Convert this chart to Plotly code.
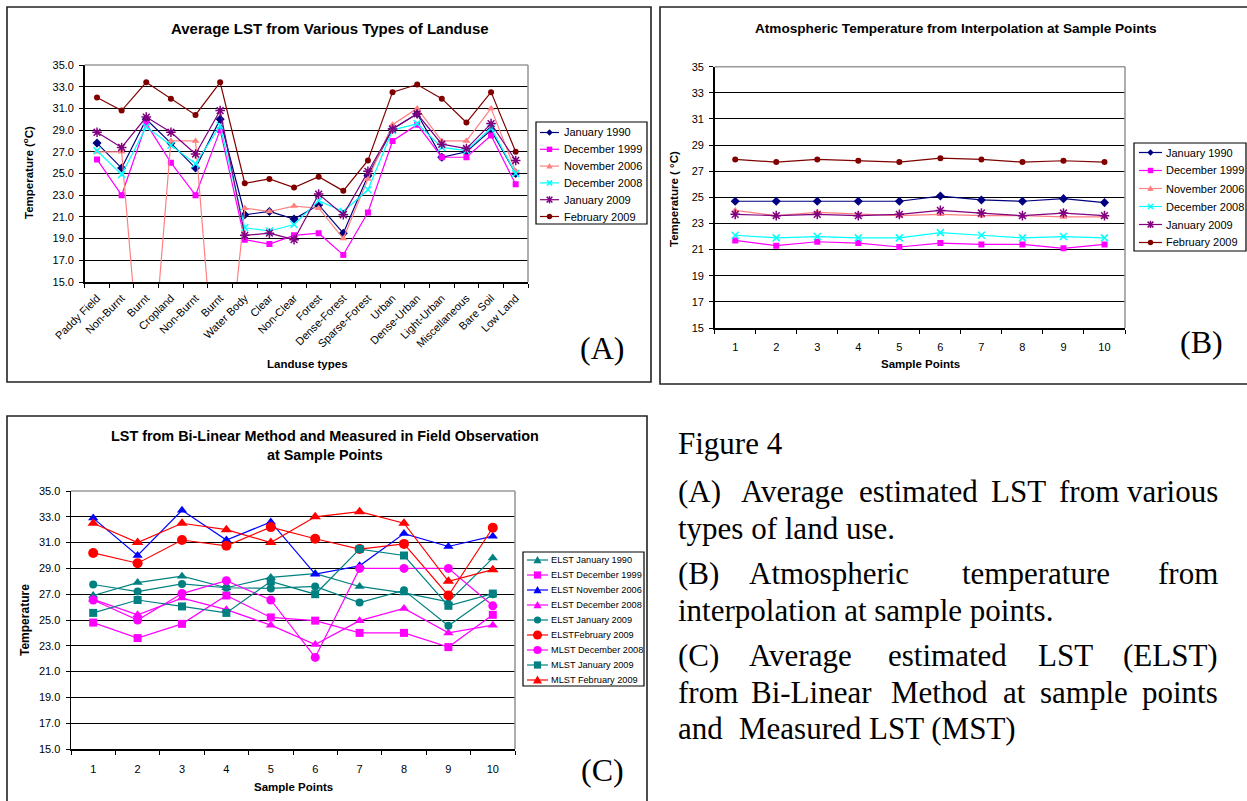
import plotly.graph_objects as go

W, H = 1247, 801

# ---------------- Panel A data ----------------
landuse = ["Paddy Field", "Non-Burnt", "Burnt", "Cropland", "Non-Burnt", "Burnt",
           "Water Body", "Clear", "Non-Clear", "Forest", "Dense-Forest", "Sparse-Forest",
           "Urban", "Dense-Urban", "Light-Urban", "Miscellaneous", "Bare Soil", "Low Land"]
a_jan1990 = [27.8, 25.5, 30.0, 27.8, 25.5, 30.0, 21.2, 21.5, 20.8, 22.1, 19.5, 24.8, 29.1, 30.5, 26.5, 27.0, 29.0, 25.0]
a_dec1999 = [26.3, 23.0, 29.6, 26.0, 23.0, 29.0, 18.9, 18.5, 19.3, 19.5, 17.5, 21.4, 28.0, 29.5, 26.5, 26.5, 28.5, 24.0]
a_nov2006 = [27.0, 27.0, 0.0, 28.0, 28.0, 0.0, 21.8, 21.5, 22.0, 21.8, 19.0, 24.5, 29.5, 31.0, 28.0, 28.0, 31.0, 25.2]
a_dec2008 = [27.1, 24.9, 29.3, 27.6, 25.9, 29.4, 20.0, 19.7, 20.3, 22.5, 21.5, 23.5, 29.0, 29.6, 27.4, 27.1, 29.2, 25.0]
a_jan2009 = [28.8, 27.4, 30.2, 28.8, 26.8, 30.8, 19.3, 19.5, 18.9, 23.1, 21.2, 25.2, 29.1, 30.5, 27.7, 27.3, 29.6, 26.2]
a_feb2009 = [32.0, 30.8, 33.4, 31.9, 30.4, 33.4, 24.1, 24.5, 23.7, 24.7, 23.4, 26.2, 32.5, 33.2, 31.9, 29.7, 32.5, 27.0]

# ---------------- Panel B data ----------------
sample_points = [1, 2, 3, 4, 5, 6, 7, 8, 9, 10]
b_jan1990 = [24.7, 24.7, 24.7, 24.7, 24.7, 25.1, 24.8, 24.7, 24.9, 24.6]
b_dec1999 = [21.7, 21.3, 21.6, 21.5, 21.2, 21.5, 21.4, 21.4, 21.1, 21.4]
b_nov2006 = [24.0, 23.6, 23.85, 23.7, 23.6, 23.7, 23.6, 23.6, 23.5, 23.5]
b_dec2008 = [22.1, 21.9, 22.0, 21.9, 21.9, 22.3, 22.1, 21.9, 22.0, 21.9]
b_jan2009 = [23.7, 23.6, 23.7, 23.6, 23.7, 24.0, 23.8, 23.6, 23.8, 23.6]
b_feb2009 = [27.9, 27.7, 27.9, 27.8, 27.7, 28.0, 27.9, 27.7, 27.8, 27.7]

# ---------------- Panel C data ----------------
c_elst_jan1990 = [26.9, 27.9, 28.4, 27.5, 28.3, 28.6, 27.6, 27.1, 26.4, 29.8]
c_elst_dec1999 = [24.8, 23.6, 24.7, 26.9, 25.2, 24.95, 24.0, 24.0, 22.9, 25.4]
c_elst_nov2006 = [32.9, 30.0, 33.5, 31.2, 32.6, 28.55, 29.2, 31.7, 30.7, 31.5]
c_elst_dec2008 = [26.6, 25.4, 26.7, 25.8, 24.6, 23.1, 24.95, 25.9, 24.0, 24.6]
c_elst_jan2009 = [27.75, 27.2, 27.8, 27.5, 27.45, 27.6, 26.35, 27.3, 24.55, 27.0]
c_elst_feb2009 = [30.2, 29.4, 31.2, 30.75, 32.2, 31.3, 30.5, 30.9, 26.9, 32.15]
c_mlst_dec2008 = [26.55, 25.0, 27.05, 28.05, 26.55, 22.1, 29.0, 29.0, 29.0, 26.1]
c_mlst_jan2009 = [25.55, 26.55, 26.05, 25.55, 28.0, 27.0, 30.5, 30.0, 26.1, 27.05]
c_mlst_feb2009 = [32.5, 31.0, 32.5, 32.0, 31.0, 33.0, 33.4, 32.5, 28.0, 28.9]

SANS = "Liberation Sans"
SERIF = "Liberation Serif"


def X(px):
    return px / W


def Y(py):
    return 1 - py / H


fig = go.Figure()

# ---------- series definitions (name, values, color, symbol, size) ----------
a_series = [
    ("January 1990", a_jan1990, "#000080", "diamond", 7),
    ("December 1999", a_dec1999, "#FF00FF", "square", 6),
    ("November 2006", a_nov2006, "#FF8080", "triangle-up", 7),
    ("December 2008", a_dec2008, "#00FFFF", "x-thin-open", 7),
    ("January 2009", a_jan2009, "#800080", "asterisk-open", 8),
    ("February 2009", a_feb2009, "#800000", "circle", 6),
]
b_series = [
    ("January 1990", b_jan1990, "#000080", "diamond", 7),
    ("December 1999", b_dec1999, "#FF00FF", "square", 6),
    ("November 2006", b_nov2006, "#FF8080", "triangle-up", 7),
    ("December 2008", b_dec2008, "#00FFFF", "x-thin-open", 7),
    ("January 2009", b_jan2009, "#800080", "asterisk-open", 8),
    ("February 2009", b_feb2009, "#800000", "circle", 6),
]
c_series = [
    ("ELST January 1990", c_elst_jan1990, "#008080", "triangle-up", 9),
    ("ELST December 1999", c_elst_dec1999, "#FF00FF", "square", 8),
    ("ELST November 2006", c_elst_nov2006, "#0000FF", "triangle-up", 9),
    ("ELST December 2008", c_elst_dec2008, "#FF00FF", "triangle-up", 9),
    ("ELST January 2009", c_elst_jan2009, "#008080", "circle", 8),
    ("ELSTFebruary 2009", c_elst_feb2009, "#FF0000", "circle", 10),
    ("MLST December 2008", c_mlst_dec2008, "#FF00FF", "circle", 9),
    ("MLST January 2009", c_mlst_jan2009, "#008080", "square", 8),
    ("MLST February 2009", c_mlst_feb2009, "#FF0000", "triangle-up", 10),
]


def add_series(series, xs, xa, ya, lw):
    for name, vals, color, sym, size in series:
        marker = dict(symbol=sym, size=size, color=color)
        if sym.endswith("-open"):
            marker["line"] = dict(color=color, width=1.5)
        else:
            marker["line"] = dict(width=0)
        fig.add_trace(go.Scatter(
            x=xs, y=vals, name=name, mode="lines+markers",
            line=dict(color=color, width=lw), marker=marker,
            xaxis=xa, yaxis=ya, showlegend=False, cliponaxis=True))


add_series(a_series, list(range(len(landuse))), "x", "y", 1.2)
add_series(b_series, sample_points, "x2", "y2", 1.2)
add_series(c_series, sample_points, "x3", "y3", 1.2)

# ---------- axes ----------
tickfont = dict(family=SANS, size=11, color="black")


def yaxis_cfg(top, bottom, fmt):
    return dict(domain=[Y(bottom), Y(top)], range=[15, 35], tick0=15, dtick=2,
                tickformat=fmt, showgrid=True, gridcolor="black", gridwidth=1,
                ticks="outside", ticklen=4, tickcolor="black", tickwidth=1,
                showline=True, linecolor="black", linewidth=1.5, zeroline=False,
                tickfont=tickfont, ticklabelstandoff=3, fixedrange=True, automargin=False)


def xaxis_cfg(left, right, rng, tickvals, ticktext, angle):
    return dict(domain=[X(left), X(right)], range=rng, tickmode="array",
                tickvals=tickvals, ticktext=ticktext, tickangle=angle,
                showgrid=False, zeroline=False, showline=True, linecolor="black",
                linewidth=1.5, ticks="outside", ticklen=4, tickcolor="rgba(0,0,0,0)",
                minor=dict(tickmode="array",
                           tickvals=[v + 0.5 for v in [tickvals[0] - 1] + list(tickvals)],
                           ticks="outside", ticklen=4, tickcolor="black", tickwidth=1,
                           showgrid=False),
                tickfont=tickfont, fixedrange=True, automargin=False)


# plot area pixel boxes
A_L, A_R, A_T, A_B = 84.7, 528, 65, 282
B_L, B_R, B_T, B_B = 714.7, 1125, 66.7, 328
C_L, C_R, C_T, C_B = 71, 515, 491, 749

fig.update_layout(
    xaxis=xaxis_cfg(A_L, A_R, [-0.5, len(landuse) - 0.5], list(range(len(landuse))), landuse, -45) | dict(anchor="y"),
    yaxis=yaxis_cfg(A_T, A_B, ".1f") | dict(anchor="x"),
    xaxis2=xaxis_cfg(B_L, B_R, [0.5, 10.5], sample_points, [str(v) for v in sample_points], 0) | dict(anchor="y2", ticklabelstandoff=4),
    yaxis2=yaxis_cfg(B_T, B_B, "d") | dict(anchor="x2"),
    xaxis3=xaxis_cfg(C_L, C_R, [0.5, 10.5], sample_points, [str(v) for v in sample_points], 0) | dict(anchor="y3", ticklabelstandoff=5),
    yaxis3=yaxis_cfg(C_T, C_B, ".1f") | dict(anchor="x3"),
)

shapes = []
annotations = []

# panel borders
for (l, t, r, b) in [(7, 7, 651, 382), (660, 7, 1252, 384), (7, 416, 647, 806)]:
    shapes.append(dict(type="rect", xref="paper", yref="paper", x0=X(l), x1=X(r), y0=Y(b), y1=Y(t),
                       line=dict(color="#222222", width=1.6), layer="below"))

# gray plot-area border (top and right)
for (l, t, r, b) in [(A_L, A_T, A_R, A_B), (B_L, B_T, B_R, B_B), (C_L, C_T, C_R, C_B)]:
    shapes.append(dict(type="line", xref="paper", yref="paper", x0=X(l), x1=X(r), y0=Y(t), y1=Y(t),
                       line=dict(color="#9a9a9a", width=1.6), layer="above"))
    shapes.append(dict(type="line", xref="paper", yref="paper", x0=X(r), x1=X(r), y0=Y(b), y1=Y(t),
                       line=dict(color="#9a9a9a", width=1.6), layer="above"))


def P(x, y):
    return f"{X(x):.6f},{Y(y):.6f}"


def marker_shapes(sym, cx, cy, r, color):
    out = []
    if sym == "diamond":
        out.append(dict(type="path", path=f"M {P(cx, cy - r)} L {P(cx + r, cy)} L {P(cx, cy + r)} L {P(cx - r, cy)} Z",
                        fillcolor=color, line=dict(width=0)))
    elif sym == "square":
        out.append(dict(type="rect", x0=X(cx - r), x1=X(cx + r), y0=Y(cy + r), y1=Y(cy - r),
                        fillcolor=color, line=dict(width=0)))
    elif sym == "triangle-up":
        out.append(dict(type="path", path=f"M {P(cx, cy - r)} L {P(cx + r, cy + r * 0.8)} L {P(cx - r, cy + r * 0.8)} Z",
                        fillcolor=color, line=dict(width=0)))
    elif sym == "circle":
        out.append(dict(type="circle", x0=X(cx - r), x1=X(cx + r), y0=Y(cy + r), y1=Y(cy - r),
                        fillcolor=color, line=dict(width=0)))
    elif sym in ("x-thin-open", "asterisk-open"):
        d = r * 0.8
        out.append(dict(type="path", path=f"M {P(cx - d, cy - d)} L {P(cx + d, cy + d)} M {P(cx - d, cy + d)} L {P(cx + d, cy - d)}",
                        line=dict(color=color, width=1.5)))
        if sym == "asterisk-open":
            out.append(dict(type="path", path=f"M {P(cx, cy - r)} L {P(cx, cy + r)}",
                            line=dict(color=color, width=1.5)))
    for s in out:
        s.update(xref="paper", yref="paper", layer="above")
    return out


def legend_box(series, box, y0, dy, lx0, lx1, tx, fsize, mscale):
    l, t, r, b = box
    shapes.append(dict(type="rect", xref="paper", yref="paper", x0=X(l), x1=X(r), y0=Y(b), y1=Y(t),
                       line=dict(color="black", width=1.2), fillcolor="white", layer="above"))
    for i, (name, vals, color, sym, size) in enumerate(series):
        yy = y0 + dy * i
        shapes.append(dict(type="line", xref="paper", yref="paper", x0=X(lx0), x1=X(lx1), y0=Y(yy), y1=Y(yy),
                           line=dict(color=color, width=1.2), layer="above"))
        shapes.extend(marker_shapes(sym, (lx0 + lx1) / 2, yy, size * mscale, color))
        annotations.append(dict(text=name, x=X(tx), y=Y(yy), xref="paper", yref="paper",
                                xanchor="left", yanchor="middle", showarrow=False,
                                font=dict(family=SANS, size=fsize, color="black")))


legend_box(a_series, (536, 122, 647, 224), 132.5, 16.8, 540, 559, 562, 11, 0.45)
legend_box(b_series, (1134, 143, 1246, 251), 152.5, 18, 1139, 1162, 1164, 11, 0.45)
legend_box(c_series, (523, 552, 644, 686), 560, 15, 527, 548, 548.5, 9.2, 0.45)


def ann(text, x, y, size, family=SANS, bold=False, angle=0, xanchor="center", yanchor="middle"):
    annotations.append(dict(text=f"<b>{text}</b>" if bold else text, x=X(x), y=Y(y),
                            xref="paper", yref="paper", showarrow=False, textangle=angle,
                            xanchor=xanchor, yanchor=yanchor,
                            font=dict(family=family, size=size, color="black")))


# chart titles and axis titles
ann("Average LST from Various Types of Landuse", 330, 29, 15, bold=True)
ann("Temperature (<sup>o</sup>C)", 28, 173, 11.5, bold=True, angle=-90)
ann("Landuse types", 307, 364, 11.5, bold=True)

ann("Atmospheric Temperature from Interpolation at Sample Points", 956, 29, 13.6, bold=True)
ann("Temperature ( °C)", 674, 199, 11.5, bold=True, angle=-90)
ann("Sample Points", 920, 364, 11.5, bold=True)

ann("LST from Bi-Linear Method and Measured in Field Observation<br>at Sample Points", 325, 445, 14.4, bold=True)
ann("Temperature", 25, 620, 12, bold=True, angle=-90)
ann("Sample Points", 293, 787, 11.5, bold=True)

# panel labels
ann("(A)", 602, 348, 32, family=SERIF)
ann("(B)", 1201, 342, 32, family=SERIF)
ann("(C)", 602, 770, 32, family=SERIF)

# caption text (justified lines placed word by word)
FS = 31
caption_lines = [
    (443, [("Figure 4", 676, "left")]),
    (492, [("(A)", 676, "left"), ("Average", 739, "left"), ("estimated", 857, "left"),
           ("LST", 989, "left"), ("from", 1057, "left"), ("various", 1220, "right")]),
    (528, [("types of land use.", 676, "left")]),
    (573, [("(B)", 676, "left"), ("Atmospheric", 747, "left"), ("temperature", 960, "left"),
           ("from", 1220, "right")]),
    (610, [("interpolation at sample points.", 676, "left")]),
    (655, [("(C)", 676, "left"), ("Average", 747, "left"), ("estimated", 886, "left"),
           ("LST", 1036, "left"), ("(ELST)", 1220, "right")]),
    (692, [("from", 676, "left"), ("Bi-Linear", 749, "left"), ("Method", 889, "left"),
           ("at", 1001, "left"), ("sample", 1038, "left"), ("points", 1220, "right")]),
    (728, [("and", 676, "left"), ("Measured LST (MST)", 737, "left")]),
]
for yy, words in caption_lines:
    for w, xx, anc in words:
        ann(w, xx, yy, FS, family=SERIF, xanchor=anc)

fig.update_layout(
    width=W, height=H, margin=dict(l=0, r=0, t=0, b=0, pad=0, autoexpand=False),
    paper_bgcolor="white", plot_bgcolor="white",
    showlegend=False, shapes=shapes, annotations=annotations,
    font=dict(family=SANS, color="black"),
)

fig.write_html("out.html", include_plotlyjs=True, full_html=True,
               config={"displayModeBar": False, "staticPlot": True},
               post_script="document.body.style.margin='0';document.body.style.overflow='hidden';")
